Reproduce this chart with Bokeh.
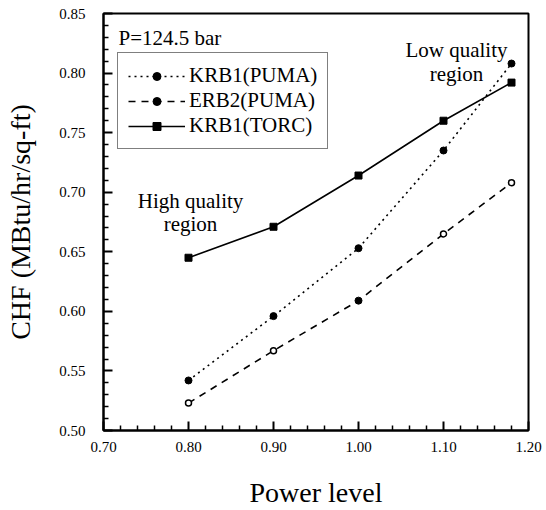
from bokeh.plotting import figure
from bokeh.models import (Range1d, FixedTicker, NumeralTickFormatter, Label,
                          Legend, LegendItem)
from bokeh.embed import file_html
from bokeh.resources import INLINE

# ---- data ----
power = [0.80, 0.90, 1.00, 1.10, 1.18]
krb1_puma = [0.542, 0.596, 0.653, 0.735, 0.808]
erb2_puma = [0.523, 0.567, 0.609, 0.665, 0.708]
krb1_torc = [0.645, 0.671, 0.714, 0.760, 0.792]

x_ticks = [0.70, 0.80, 0.90, 1.00, 1.10, 1.20]
x_minor = [0.72, 0.74, 0.76, 0.78, 0.82, 0.84, 0.86, 0.88, 0.92, 0.94, 0.96, 0.98,
           1.02, 1.04, 1.06, 1.08, 1.12, 1.14, 1.16, 1.18]
y_ticks = [0.50, 0.55, 0.60, 0.65, 0.70, 0.75, 0.80, 0.85]
y_minor = [0.51, 0.52, 0.53, 0.54, 0.56, 0.57, 0.58, 0.59, 0.61, 0.62, 0.63, 0.64,
           0.66, 0.67, 0.68, 0.69, 0.71, 0.72, 0.73, 0.74, 0.76, 0.77, 0.78, 0.79,
           0.81, 0.82, 0.83, 0.84]

FONT = "Liberation Serif"

p = figure(width=546, height=510, output_backend="svg", toolbar_location=None,
           x_range=Range1d(0.70, 1.20), y_range=Range1d(0.50, 0.85),
           min_border_left=103, min_border_right=18, min_border_top=13,
           min_border_bottom=77)
p.grid.visible = False
p.outline_line_color = "black"
p.outline_line_width = 2

p.xaxis.ticker = FixedTicker(ticks=x_ticks, minor_ticks=x_minor)
p.yaxis.ticker = FixedTicker(ticks=y_ticks, minor_ticks=y_minor)
for axes in (p.xaxis, p.yaxis):
    axes.formatter = NumeralTickFormatter(format="0.00")
    axes.major_tick_in = 9
    axes.major_tick_out = 0
    axes.minor_tick_in = 5
    axes.minor_tick_out = 0
    axes.major_tick_line_width = 2
    axes.minor_tick_line_width = 1.5
    axes.major_tick_line_color = "black"
    axes.minor_tick_line_color = "black"
    axes.axis_line_width = 2
    axes.axis_line_color = "black"
    axes.major_label_text_font = FONT
    axes.major_label_text_font_size = "15px"
    axes.major_label_text_color = "black"
    axes.axis_label_text_font = FONT
    axes.axis_label_text_font_style = "normal"
    axes.axis_label_text_color = "black"

p.xaxis.axis_label = "Power level"
p.xaxis.axis_label_text_font_size = "28px"
p.xaxis.major_label_standoff = 11
p.xaxis.axis_label_standoff = 22
p.yaxis.axis_label = "CHF (MBtu/hr/sq-ft)"
p.yaxis.axis_label_text_font_size = "28px"
p.yaxis.major_label_standoff = 18
p.yaxis.axis_label_standoff = 20

# KRB1(PUMA): dotted line with filled circles
l1 = p.line(power, krb1_puma, line_color="black", line_width=1.6, line_dash="2 4")
s1 = p.scatter(power, krb1_puma, marker="circle", size=7, fill_color="black",
               line_color="black")

# ERB2(PUMA): dashed line, mostly open circles (the 1.00 point is filled)
l2 = p.line(power, erb2_puma, line_color="black", line_width=1.6, line_dash="7 6")
s2 = p.scatter([power[i] for i in (0, 1, 3, 4)], [erb2_puma[i] for i in (0, 1, 3, 4)],
               marker="circle", size=6, fill_color="white", line_color="black",
               line_width=1.5)
s2f = p.scatter([power[2]], [erb2_puma[2]], marker="circle", size=7,
                fill_color="black", line_color="black")

# KRB1(TORC): solid line with filled squares
l3 = p.line(power, krb1_torc, line_color="black", line_width=1.6)
s3 = p.scatter(power, krb1_torc, marker="square", size=7, fill_color="black",
               line_color="black")

legend = Legend(items=[
    LegendItem(label="KRB1(PUMA)", renderers=[l1, s1]),
    LegendItem(label="ERB2(PUMA)", renderers=[l2, s2f]),
    LegendItem(label="KRB1(TORC)", renderers=[l3, s3]),
], location=(14, 281))
legend.label_text_font = FONT
legend.label_text_font_size = "21px"
legend.label_text_color = "black"
legend.label_height = 25
legend.glyph_height = 20
legend.glyph_width = 57
legend.label_standoff = 4
legend.spacing = 0
legend.padding = 10
legend.margin = 0
legend.border_line_color = "black"
legend.border_line_width = 1.5
legend.background_fill_color = "white"
legend.background_fill_alpha = 1
p.add_layout(legend, "center")

def add_text(x, y, t, align="left"):
    p.add_layout(Label(x=x, y=y, text=t, text_font=FONT, text_font_size="21px",
                       text_color="black", text_align=align,
                       text_baseline="alphabetic"))

add_text(0.7176, 0.8295, "P=124.5 bar")
add_text(1.1153, 0.8190, "Low quality", "center")
add_text(1.1153, 0.7990, "region", "center")
add_text(0.8024, 0.6925, "High quality", "center")
add_text(0.8024, 0.6733, "region", "center")

open("out.html", "w").write(file_html(p, INLINE))
